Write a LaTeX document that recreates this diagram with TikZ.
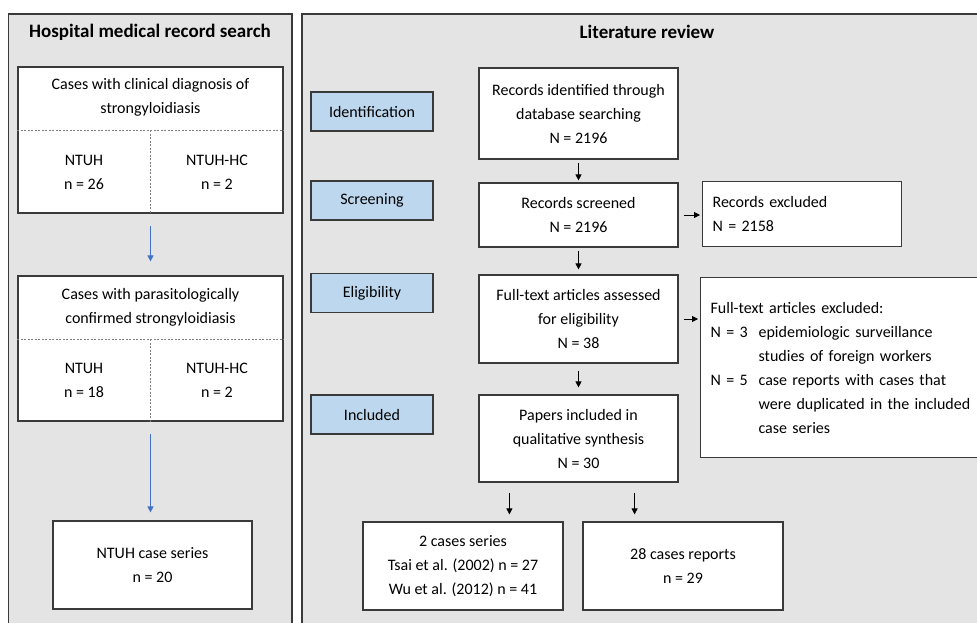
\documentclass[tikz,border=0pt]{standalone}
\usepackage{fontspec}
\setmainfont{Carlito}
\usepackage{xcolor}
\usetikzlibrary{arrows.meta,positioning}

\definecolor{panelgray}{HTML}{E4E4E4}
\definecolor{edgegray}{HTML}{3A3A3A}
\definecolor{stageblue}{HTML}{BDD7EE}
\definecolor{arrblue}{HTML}{4472C4}

\begin{document}
\begin{tikzpicture}[x=1pt, y=-1pt,
  panel/.style={draw=edgegray, fill=panelgray, line width=1.6pt},
  box/.style={rectangle, draw=edgegray, fill=white, line width=1.2pt, align=center, inner sep=0pt},
  stagebox/.style={rectangle, draw=edgegray, fill=stageblue, line width=1.2pt,
    minimum width=122pt, minimum height=39pt},
  sidebox/.style={rectangle, draw=edgegray, fill=white, line width=1.2pt, align=left,
    inner xsep=10pt, anchor=north west},
  split/.style={draw=gray, line width=0.7pt, dash pattern=on 2pt off 1.5pt},
  arr/.style={-{Triangle[width=6pt,length=6pt]}, line width=0.8pt, draw=black},
  blarr/.style={arr, draw=arrblue, fill=arrblue},
  heading/.style={font=\fontsize{19}{24}\selectfont\bfseries},
  font=\fontsize{16}{24}\selectfont
]
\clip (0,0) rectangle (977,622);

% panels
\draw[panel] (8.5,14) rectangle (292,650);
\draw[panel] (302,14) rectangle (1000,650);
\node[heading] (T1) at (150,32) {Hospital medical record search};
\node[heading] (T2) at (647,32) {Literature review};

% hospital records
\node[box, minimum width=265pt, minimum height=146pt] (H1) at (150.5,140) {};
\node[align=center] (H1t) at (150.5,97.5) {Cases with clinical diagnosis of\\strongyloidiasis};
\draw[split] ([yshift=-64pt]H1.north west) -- ([yshift=-64pt]H1.north east);
\draw[split] ([yshift=-64pt]H1.north) -- (H1.south);
\node[align=center] (H1a) at (84,172.5) {NTUH\\n = 26};
\node[align=center] (H1b) at (217,172.5) {NTUH-HC\\n = 2};

\node[box, minimum width=265pt, minimum height=145pt] (H2) at (150.5,348.5) {};
\node[align=center] (H2t) at (150.5,307.5) {Cases with parasitologically\\confirmed strongyloidiasis};
\draw[split] ([yshift=-64pt]H2.north west) -- ([yshift=-64pt]H2.north east);
\draw[split] ([yshift=-64pt]H2.north) -- (H2.south);
\node[align=center] (H2a) at (84,380) {NTUH\\n = 18};
\node[align=center] (H2b) at (217,380) {NTUH-HC\\n = 2};

\node[box, minimum width=199pt, minimum height=88pt] (H3) at (152.5,565) {NTUH case series\\n = 20};

\draw[blarr, shorten <=12pt, shorten >=14pt] (H1) -- (H2);
\draw[blarr, shorten <=12pt, shorten >=8pt] (H2.south) -- (H2.south |- H3.north);

% stages
\node[stagebox] (S1) at (372,111.5) {Identification};
\node[stagebox] (S2) at (372,200.5) {Screening};
\node[stagebox] (S3) at (372,293) {Eligibility};
\node[stagebox] (S4) at (372,414.5) {Included};

% literature flow
\node[box, minimum width=199pt, minimum height=91pt] (L1) at (578.5,113.5)
  {Records identified through\\database searching\\N = 2196};
\node[box, minimum width=199pt, minimum height=64pt] (L2) at (578.5,215)
  {Records screened\\N = 2196};
\node[box, minimum width=199pt, minimum height=88pt] (L3) at (578.5,319)
  {Full-text articles assessed\\for eligibility\\N = 38};
\node[box, minimum width=199pt, minimum height=87pt] (L4) at (578.5,438.5)
  {Papers included in\\qualitative synthesis\\N = 30};

\node[sidebox, text width=179pt, minimum height=65pt] (X1) at (702,181)
  {Records excluded\\N = 2158};
\node[sidebox, text width=270pt, minimum height=180pt] (X2) at (700,277)
  {Full-text articles excluded:\\
   \makebox[48pt][l]{N = 3}epidemiologic surveillance\\
   \hspace*{48pt}studies of foreign workers\\
   \makebox[48pt][l]{N = 5}case reports with cases that\\
   \hspace*{48pt}were duplicated in the included\\
   \hspace*{48pt}case series};

\node[box, minimum width=200pt, minimum height=88pt] (R1) at (463,566)
  {2 cases series\\Tsai et al. (2002) n = 27\\Wu et al. (2012) n = 41};
\node[box, minimum width=200pt, minimum height=88pt] (R2) at (683,566)
  {28 cases reports\\n = 29};

\draw[arr, shorten <=3pt, shorten >=2pt] (L1) -- (L2);
\draw[arr, shorten <=3pt, shorten >=5pt] (L2) -- (L3);
\draw[arr, shorten <=7pt, shorten >=7pt] (L3) -- (L4);
\draw[arr, shorten <=5pt, shorten >=2pt] (L2.east) -- (L2.east -| X1.west);
\draw[arr, shorten <=5pt, shorten >=2pt] (L3.east) -- (L3.east -| X2.west);
\draw[arr, shorten <=10pt, shorten >=7pt] ([xshift=31pt]L4.south west) -- ([xshift=31pt]L4.south west |- R1.north);
\draw[arr, shorten <=10pt, shorten >=7pt] ([xshift=-44pt]L4.south east) -- ([xshift=-44pt]L4.south east |- R2.north);

\end{tikzpicture}
\end{document}
